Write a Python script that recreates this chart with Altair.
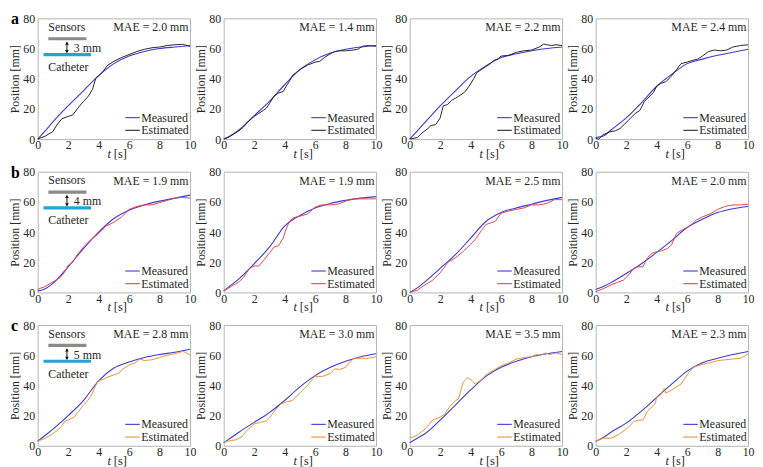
import altair as alt
import pandas as pd

FONT = "Liberation Serif, Times New Roman, serif"
W, H = 154, 122

# ---------------- data ----------------
MEAS_T = [0, 0.5, 1, 2, 3, 4, 5, 6, 7, 8, 9, 10]

a1_meas = [0, 5.5, 11.4, 22, 32, 42, 50, 55, 58, 60, 61, 61.8]
a2_meas = [0, 2.5, 6, 15.5, 25, 36, 46, 52.5, 57, 59.5, 61, 62]
a3_meas = [0, 5.5, 11, 22, 32, 41.5, 48.5, 54, 56.5, 58.5, 60, 61]
a4_meas = [1, 2, 6, 14, 24, 35, 43, 50, 53, 55.5, 57.5, 59.5]
b1_meas = [1, 2.5, 6, 17, 29, 40, 49, 54.5, 58, 60.5, 62.5, 64.5]
b2_meas = [1, 5, 9, 19, 30, 44, 51, 56, 59, 61, 62.5, 63.5]
b3_meas = [0, 3, 7, 16, 25, 36, 47, 53, 56, 58.5, 61, 63]
b4_meas = [2, 4, 6.5, 12.5, 19, 26.5, 34.5, 43, 48.5, 53, 55.5, 57]
c1_meas = [3, 7, 11, 20, 30, 43, 51.5, 55.5, 58.5, 60.5, 62, 64]
c2_meas = [2, 5.5, 9, 15.5, 22, 30, 39, 46.5, 52, 56, 59, 61]
c3_meas = [2, 5, 8, 17, 27, 37, 46, 52, 56, 59, 61, 62.5]
c4_meas = [3, 5.5, 9, 15, 23, 32, 41, 49.5, 55, 58, 60.5, 62.5]

a1_est_t = [0, 0.5, 1, 1.3, 1.6, 2, 2.3, 2.6, 3, 3.3, 3.6, 3.8, 4, 4.3, 4.6, 5, 5.5, 6, 6.5, 7, 7.5, 8, 8.5, 9, 9.5, 10]
a1_est = [0, 2, 5, 10, 13.5, 15, 16, 20, 25, 28, 33, 40, 42, 45, 49, 51.5, 54, 56, 58, 59.5, 60.5, 61, 62, 62.5, 62.8, 61.5]
a2_est_t = [0, 0.3, 0.6, 1, 1.3, 1.6, 2, 2.3, 2.6, 2.8, 3, 3.3, 3.6, 3.9, 4.1, 4.3, 4.5, 5, 5.5, 6, 6.3, 6.6, 7, 7.3, 7.6, 8, 8.5, 8.8, 9.1, 9.5, 10]
a2_est = [0, 1, 3, 5.5, 8, 11.5, 15, 17, 19, 20.5, 23.5, 28.5, 30.5, 31.5, 35, 38, 42, 46, 49, 51, 51.5, 54, 56.5, 58, 58.5, 58.5, 59, 59.5, 61.5, 62, 61.5]
a3_est_t = [0, 0.5, 0.8, 1.2, 1.4, 1.7, 2, 2.2, 2.5, 2.8, 3, 3.3, 3.6, 3.9, 4.2, 4.4, 4.7, 5, 5.3, 5.5, 5.8, 6, 6.5, 7, 7.5, 8, 8.5, 8.8, 9, 9.3, 9.6, 10]
a3_est = [0, 1, 4, 7, 9, 9.5, 14, 22, 23, 26, 27, 29, 31, 35, 40, 44, 46, 48, 50, 52, 53, 55, 55.5, 57.5, 58.5, 59, 61, 63, 62.5, 62, 62.5, 62]
a4_est_t = [0, 0.2, 0.5, 1, 1.3, 1.6, 2, 2.3, 2.6, 2.9, 3.2, 3.5, 3.8, 4, 4.3, 4.6, 5, 5.3, 5.6, 6, 6.3, 6.7, 7, 7.4, 7.8, 8.2, 8.6, 9, 9.5, 10]
a4_est = [0.5, 0, 3, 5, 5.5, 7, 11, 14, 17, 19, 25, 28, 31, 35, 37, 38, 42, 46, 50, 51, 52, 53, 55, 58, 59, 58.5, 59, 61, 62, 62.5]

b1_est_t = [0, 0.5, 1, 1.5, 1.8, 2, 2.3, 2.6, 3, 3.5, 4, 4.5, 5, 5.5, 6, 6.5, 7, 7.5, 8, 8.5, 9, 9.5, 10]
b1_est = [2, 4, 7, 10, 14, 18, 20, 25, 30, 35, 39, 44, 46.5, 50, 55, 57, 58, 58, 59.5, 61, 62.5, 63, 62.5]
b2_est_t = [0, 0.5, 1, 1.3, 1.7, 2, 2.3, 2.6, 3, 3.3, 3.6, 3.9, 4.1, 4.3, 4.6, 5, 5.5, 6, 6.4, 7, 7.5, 8, 8.5, 9, 9.5, 10]
b2_est = [1, 4, 7, 10, 16, 17.5, 17.5, 21, 26, 30, 31, 36, 42, 47, 49.5, 50.5, 52, 56.5, 58, 58, 58.5, 60.5, 62, 62, 62, 62]
b3_est_t = [0, 0.5, 1, 1.5, 2, 2.3, 2.5, 3, 3.5, 4, 4.3, 4.7, 5, 5.3, 5.6, 6, 6.5, 7, 7.5, 8, 8.5, 9, 9.5, 10]
b3_est = [0, 1.5, 5, 8, 13, 17, 20, 23, 27, 32, 35, 41, 45, 46, 47, 52.5, 54, 55, 56, 58, 58, 59, 61.5, 61.5]
b4_est_t = [0, 0.5, 1, 1.5, 1.8, 2.2, 2.5, 2.8, 3.1, 3.4, 3.7, 4, 4.3, 4.7, 5, 5.3, 5.6, 6, 6.3, 6.6, 7, 7.5, 8, 8.5, 9, 9.5, 10]
b4_est = [0.5, 2.5, 5, 7, 8, 12, 16, 17, 17, 23, 26, 27, 27.5, 29, 32, 39, 41, 43, 45, 48, 50, 52, 55, 57, 58, 58, 58.5]

c1_est_t = [0, 0.5, 1, 1.5, 1.8, 2, 2.4, 2.7, 3, 3.3, 3.6, 3.8, 4, 4.3, 4.6, 5, 5.3, 5.6, 6, 6.4, 6.7, 7, 7.5, 8, 8.5, 9, 9.5, 9.7, 10]
c1_est = [3, 5, 8, 12, 16.5, 17, 19, 23, 27, 30, 35, 40, 43, 44, 45.5, 47, 48, 51, 53.5, 55, 57.5, 56.5, 57, 58.5, 60, 61, 62.5, 62, 60]
c2_est_t = [0, 0.5, 0.8, 1.2, 1.5, 2, 2.4, 2.8, 3, 3.4, 3.8, 4.1, 4.5, 5, 5.5, 5.8, 6, 6.5, 7, 7.3, 7.6, 8, 8.3, 8.6, 9, 9.5, 10]
c2_est = [2.5, 3.5, 4, 6, 10, 14.5, 15.5, 16.5, 18.5, 24, 28, 29, 30, 35, 40, 44, 46, 46, 48, 51, 50.5, 52, 56, 58, 58, 58, 59]
c3_est_t = [0, 0.5, 1, 1.5, 2, 2.3, 2.7, 3, 3.2, 3.5, 3.8, 4, 4.3, 4.6, 5, 5.5, 6, 6.5, 7, 7.5, 8, 8.3, 8.6, 8.9, 9.2, 9.6, 10]
c3_est = [5, 7, 11, 17, 19, 21, 27, 30, 31, 42, 45, 44, 41, 43, 47, 50, 53, 55, 57.5, 58.5, 59, 60.5, 60, 61.5, 60.5, 61.5, 60.5]
c4_est_t = [0, 0.5, 1, 1.5, 2, 2.5, 2.8, 3.1, 3.4, 3.7, 3.9, 4, 4.3, 4.5, 4.6, 5, 5.3, 5.6, 6, 6.4, 7, 7.5, 8, 8.5, 9, 9.5, 9.8, 10]
c4_est = [3, 5, 5, 7.5, 11, 16, 17, 17, 23, 26, 28, 32, 34, 38, 35, 37, 39, 41, 47, 52, 54, 55, 56.5, 57, 57.5, 58, 59.5, 61]

MEAS_ROWS = [[a1_meas, a2_meas, a3_meas, a4_meas],
             [b1_meas, b2_meas, b3_meas, b4_meas],
             [c1_meas, c2_meas, c3_meas, c4_meas]]
EST_T_ROWS = [[a1_est_t, a2_est_t, a3_est_t, a4_est_t],
              [b1_est_t, b2_est_t, b3_est_t, b4_est_t],
              [c1_est_t, c2_est_t, c3_est_t, c4_est_t]]
EST_ROWS = [[a1_est, a2_est, a3_est, a4_est],
            [b1_est, b2_est, b3_est, b4_est],
            [c1_est, c2_est, c3_est, c4_est]]

MAE_A = [2.0, 1.4, 2.2, 2.4]
MAE_B = [1.9, 1.9, 2.5, 2.0]
MAE_C = [2.8, 3.0, 3.5, 2.3]
MAE_ROWS = [MAE_A, MAE_B, MAE_C]

ROW_LETTERS = ["a", "b", "c"]
GAP_LABELS = ["3 mm", "4 mm", "5 mm"]
LEGEND_LABELS = ["Measured", "Estimated"]
X_TICKS = [0, 2, 4, 6, 8, 10]
Y_TICKS = [0, 20, 40, 60, 80]

MEAS_COLOR = "#3a3ad6"
EST_COLORS = ["#262626", "#e8434c", "#ef9133"]
SENSOR_COLOR = "#8a8a8a"
CATHETER_COLOR = "#1fa5da"
TEXT_COLOR = "#262626"

XS = alt.Scale(domain=[0, 10], nice=False, zero=False)
YS = alt.Scale(domain=[0, 80], nice=False, zero=False)
X_AXIS = alt.Axis(values=X_TICKS, title=None, format="d")
Y_AXIS = alt.Axis(values=Y_TICKS, title="Position [mm]", format="d")


def xq(field="t"):
    return alt.X(f"{field}:Q", scale=XS, axis=X_AXIS)


def yq(field="pos"):
    return alt.Y(f"{field}:Q", scale=YS, axis=Y_AXIS)


def txt(df, **kw):
    base = dict(font=FONT, fontSize=12, color=TEXT_COLOR)
    base.update(kw)
    return alt.Chart(df).mark_text(**base)


def hrule(t1, t2, pos, color, width):
    df = pd.DataFrame({"t1": [t1], "t2": [t2], "pos": [pos]})
    return (alt.Chart(df).mark_rule(color=color, strokeWidth=width)
            .encode(x=xq("t1"), x2="t2", y=yq()))


def panel(r, c):
    est_color = EST_COLORS[r]
    df_m = pd.DataFrame({"t": MEAS_T, "pos": MEAS_ROWS[r][c]})
    df_e = pd.DataFrame({"t": EST_T_ROWS[r][c], "pos": EST_ROWS[r][c]})

    layers = []
    layers.append(
        alt.Chart(df_m).mark_line(color=MEAS_COLOR, strokeWidth=1.1, interpolate="monotone")
        .encode(x=xq(), y=yq())
    )
    layers.append(
        alt.Chart(df_e).mark_line(color=est_color, strokeWidth=1)
        .encode(x=xq(), y=yq())
    )

    # MAE label
    df_mae = pd.DataFrame({"t": [9.9], "pos": [74], "label": [f"MAE = {MAE_ROWS[r][c]:.1f} mm"]})
    layers.append(txt(df_mae, align="right", baseline="middle")
                  .encode(x=xq(), y=yq(), text="label:N"))

    # legend (inside, bottom right)
    layers.append(hrule(5.75, 6.7, 14.2, MEAS_COLOR, 1.1))
    layers.append(hrule(5.75, 6.7, 5.8, est_color, 1.1))
    df_leg = pd.DataFrame({"t": [6.8, 6.8], "pos": [14.2, 5.8], "label": LEGEND_LABELS})
    layers.append(txt(df_leg, align="left", baseline="middle")
                  .encode(x=xq(), y=yq(), text="label:N"))

    # x-axis title "t [s]" with italic t
    df_t = pd.DataFrame({"label": ["t"]})
    df_s = pd.DataFrame({"label": ["[s]"]})
    layers.append(txt(df_t, align="right", baseline="alphabetic", fontStyle="italic", fontSize=12.5)
                  .encode(x=alt.value(W / 2 - 3), y=alt.value(H + 19), text="label:N"))
    layers.append(txt(df_s, align="left", baseline="alphabetic", fontSize=12.5)
                  .encode(x=alt.value(W / 2), y=alt.value(H + 19), text="label:N"))

    if c == 0:
        # schematic inset
        layers.append(hrule(0.7, 3.2, 66.5, SENSOR_COLOR, 3.2))
        layers.append(hrule(0.38, 3.5, 56, CATHETER_COLOR, 3.2))
        df_arrow = pd.DataFrame({"t": [1.92], "p1": [64.0], "p2": [57.6]})
        layers.append(alt.Chart(df_arrow).mark_rule(strokeWidth=1, color="#111111")
                      .encode(x=xq(), y=yq("p1"), y2="p2"))
        df_up = pd.DataFrame({"t": [1.92], "pos": [63.6]})
        df_dn = pd.DataFrame({"t": [1.92], "pos": [58.0]})
        layers.append(alt.Chart(df_up).mark_point(filled=True, size=14, color="#111111", opacity=1,
                                                  shape="triangle-up")
                      .encode(x=xq(), y=yq()))
        layers.append(alt.Chart(df_dn).mark_point(filled=True, size=14, color="#111111", opacity=1,
                                                  shape="triangle-down")
                      .encode(x=xq(), y=yq()))
        df_inset_txt = pd.DataFrame({
            "t": [0.7, 2.37, 0.7], "pos": [74.2, 60.3, 47.8],
            "label": ["Sensors", GAP_LABELS[r], "Catheter"],
        })
        layers.append(txt(df_inset_txt, align="left", baseline="middle")
                      .encode(x=xq(), y=yq(), text="label:N"))
        # panel letter
        df_letter = pd.DataFrame({"label": [ROW_LETTERS[r]]})
        layers.append(txt(df_letter, align="left", baseline="alphabetic", fontSize=16,
                          fontWeight="bold", color="#000000")
                      .encode(x=alt.value(-27), y=alt.value(6), text="label:N"))

    return alt.layer(*layers).properties(width=W, height=H)


panels = [panel(r, c) for r in range(3) for c in range(4)]

chart = alt.concat(
    *panels, columns=4, spacing={"row": 33, "column": 34}, bounds="flush"
).properties(
    padding={"left": 0, "top": 0, "right": 0, "bottom": 0}
).configure_view(
    stroke="#b4b4b4", strokeWidth=1
).configure_axis(
    grid=False, domain=False, ticks=False,
    labelFont=FONT, titleFont=FONT, labelFontSize=12, titleFontSize=12,
    labelColor=TEXT_COLOR, titleColor=TEXT_COLOR, titleFontWeight="normal",
    labelFlush=False,
).configure_axisX(
    labelPadding=1,
).configure_axisY(
    labelPadding=3, titlePadding=1,
)

chart.save("out.html", embed_options={"renderer": "svg", "actions": False})
